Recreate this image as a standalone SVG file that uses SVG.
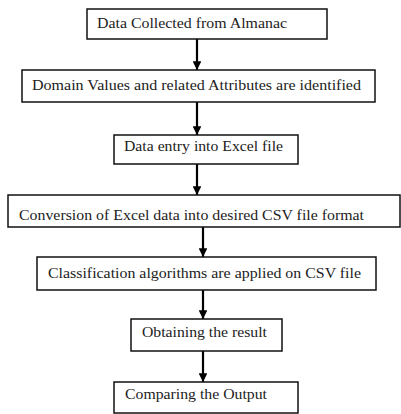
<svg xmlns="http://www.w3.org/2000/svg" width="401" height="414" viewBox="0 0 401 414">
<defs>
<marker id="ah" viewBox="0 0 10 10" refX="10" refY="5" markerWidth="4" markerHeight="4" orient="auto" markerUnits="strokeWidth">
<path d="M0,0 L10,5 L0,10 z" fill="#000"/>
</marker>
<style>
.box{fill:#fff;stroke:#111;stroke-width:1.5}
.lbl{font-size:15px;fill:#222}
.conn{stroke:#000;stroke-width:2.2;fill:none;marker-end:url(#ah)}
</style>
</defs>
<rect width="401" height="414" fill="#fff"/>
<g id="connectors">
<line class="conn" x1="197" y1="39" x2="197" y2="70"/>
<line class="conn" x1="197" y1="102" x2="197" y2="135"/>
<line class="conn" x1="197" y1="164" x2="197" y2="195"/>
<line class="conn" x1="203" y1="227" x2="203" y2="257"/>
<line class="conn" x1="203" y1="290" x2="203" y2="319"/>
<line class="conn" x1="203" y1="351" x2="203" y2="382"/>
</g>
<g font-family="Liberation Serif, DejaVu Serif, serif">
<g id="n1"><rect class="box" x="87" y="9" width="240" height="30"/><text class="lbl" x="97" y="28" textLength="190" lengthAdjust="spacingAndGlyphs">Data Collected from Almanac</text></g>
<g id="n2"><rect class="box" x="22" y="70" width="353" height="32"/><text class="lbl" x="32" y="90" textLength="329" lengthAdjust="spacingAndGlyphs">Domain Values and related Attributes are identified</text></g>
<g id="n3"><rect class="box" x="114" y="135" width="184" height="29"/><text class="lbl" x="124" y="151" textLength="159" lengthAdjust="spacingAndGlyphs">Data entry into Excel file</text></g>
<g id="n4"><rect class="box" x="8" y="195" width="392" height="32"/><text class="lbl" x="19" y="220" textLength="345" lengthAdjust="spacingAndGlyphs">Conversion of Excel data into desired CSV file format</text></g>
<g id="n5"><rect class="box" x="37" y="257" width="339" height="33"/><text class="lbl" x="48" y="278" textLength="313" lengthAdjust="spacingAndGlyphs">Classification algorithms are applied on CSV file</text></g>
<g id="n6"><rect class="box" x="131" y="319" width="151" height="32"/><text class="lbl" x="142" y="337" textLength="125" lengthAdjust="spacingAndGlyphs">Obtaining the result</text></g>
<g id="n7"><rect class="box" x="114" y="382" width="184" height="31"/><text class="lbl" x="125" y="399" textLength="142" lengthAdjust="spacingAndGlyphs">Comparing the Output</text></g>
</g>
</svg>
